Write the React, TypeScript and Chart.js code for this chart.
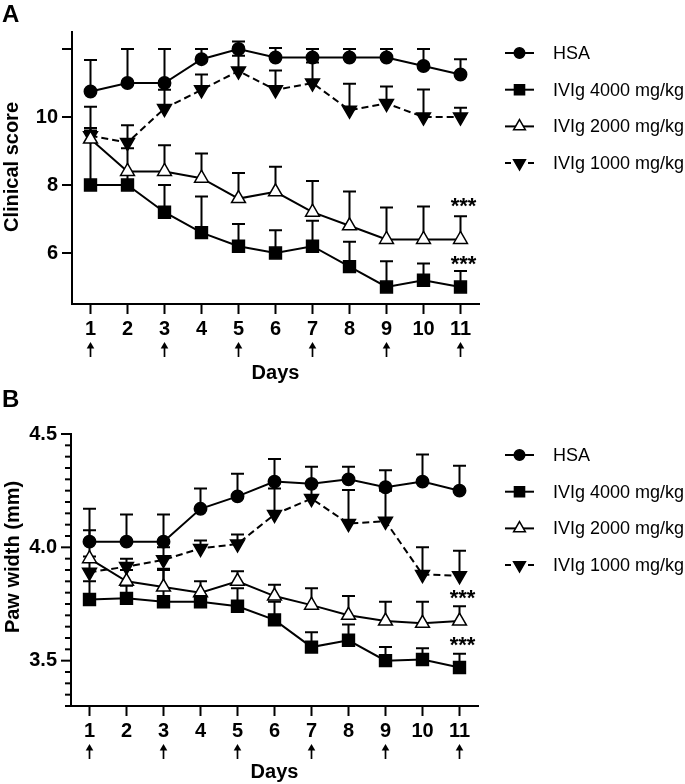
import React, { useEffect, useRef } from 'react';
import { Chart, registerables } from 'chart.js';

Chart.register(...registerables);

// ---------------- data ----------------
const days = [1, 2, 3, 4, 5, 6, 7, 8, 9, 10, 11];
const doseDays = [1, 3, 5, 7, 9, 11];
const seriesNames = ['HSA', 'IVIg 4000 mg/kg', 'IVIg 2000 mg/kg', 'IVIg 1000 mg/kg'];

// Panel A – clinical score (mean and mean + SEM)
const scoreHSA = [10.75, 11.0, 11.0, 11.7, 12.0, 11.75, 11.75, 11.75, 11.75, 11.5, 11.25];
const scoreHSAUpper = [11.68, 12.0, 12.0, 12.0, 12.22, 12.03, 12.0, 12.0, 12.0, 12.0, 11.7];
const score4000 = [8.0, 8.0, 7.2, 6.6, 6.2, 6.0, 6.2, 5.6, 5.0, 5.2, 5.0];
const score4000Upper = [9.68, 8.3, 8.0, 7.66, 6.85, 6.67, 6.95, 6.33, 5.76, 5.69, 5.47];
const score2000 = [9.35, 8.4, 8.4, 8.2, 7.6, 7.8, 7.2, 6.8, 6.4, 6.4, 6.4];
const score2000Upper = [10.3, 9.08, 9.17, 8.93, 8.35, 8.54, 8.12, 7.81, 7.34, 7.37, 7.08];
const score1000 = [9.45, 9.25, 10.25, 10.8, 11.35, 10.8, 11.0, 10.2, 10.4, 10.0, 10.0];
const score1000Upper = [9.6, 9.76, 10.8, 11.25, 11.8, 11.37, 11.6, 10.98, 10.9, 10.81, 10.27];
const scoreTicks = [6, 8, 10, 12];
const scoreTickLabels = [6, 8, 10];
const scoreStars = [7.55, 5.85];

// Panel B – paw width in mm (mean and mean + SEM)
const pawHSA = [4.025, 4.025, 4.025, 4.17, 4.225, 4.29, 4.28, 4.3, 4.265, 4.29, 4.25];
const pawHSAUpper = [4.17, 4.145, 4.145, 4.26, 4.325, 4.39, 4.355, 4.355, 4.34, 4.41, 4.36];
const paw4000 = [3.77, 3.775, 3.76, 3.76, 3.74, 3.68, 3.56, 3.59, 3.5, 3.505, 3.47];
const paw4000Upper = [3.85, 3.83, 3.9, 3.79, 3.82, 3.76, 3.625, 3.66, 3.56, 3.555, 3.53];
const paw2000 = [3.95, 3.85, 3.825, 3.8, 3.85, 3.785, 3.745, 3.7, 3.675, 3.665, 3.675];
const paw2000Upper = [4.075, 3.9, 3.905, 3.85, 3.895, 3.835, 3.82, 3.785, 3.76, 3.76, 3.74];
const paw1000 = [3.89, 3.915, 3.945, 3.995, 4.015, 4.145, 4.215, 4.105, 4.115, 3.88, 3.875];
const paw1000Upper = [3.96, 3.95, 4.0, 4.03, 4.057, 4.26, 4.28, 4.253, 4.25, 4.0, 3.985];
const pawTickStep = 0.05;
const pawTickLabels = [3.5, 4.0, 4.5];
const pawStars = [3.8, 3.595];

// ---------------- styling ----------------
const FONT = "'Liberation Sans', Arial, Helvetica, sans-serif";
const W = 685;

type Panel = {
  letter: string;
  yTitle: string;
  titleX: number;
  titleShift: number;
  yMin: number;
  yMax: number;
  yTicks: number[];
  yLabels: number[];
  yDecimals: number;
  means: number[][];
  uppers: number[][];
  stars: number[];
  height: number;
  area: { top: number; bottom: number; left: number; right: number };
};

const pawTicks: number[] = [];
for (let v = 3.3; v <= 4.5 + 1e-9; v += pawTickStep) pawTicks.push(Math.round(v * 100) / 100);

const panelA: Panel = {
  letter: 'A',
  yTitle: 'Clinical score',
  titleX: 12.5,
  titleShift: -1,
  yMin: 4.5,
  yMax: 12.5,
  yTicks: scoreTicks,
  yLabels: scoreTickLabels,
  yDecimals: 0,
  means: [scoreHSA, score4000, score2000, score1000],
  uppers: [scoreHSAUpper, score4000Upper, score2000Upper, score1000Upper],
  stars: scoreStars,
  height: 385,
  area: { top: 32, bottom: 304, left: 72, right: 479 },
};

const panelB: Panel = {
  letter: 'B',
  yTitle: 'Paw width (mm)',
  titleX: 13.5,
  titleShift: -13,
  yMin: 3.3,
  yMax: 4.5,
  yTicks: pawTicks,
  yLabels: pawTickLabels,
  yDecimals: 1,
  means: [pawHSA, paw4000, paw2000, paw1000],
  uppers: [pawHSAUpper, paw4000Upper, paw2000Upper, paw1000Upper],
  stars: pawStars,
  height: 399,
  area: { top: 49, bottom: 321, left: 71, right: 478 },
};

const markerStyles = [
  { style: 'circle', radius: 6.2, rotation: 0, fill: '#000', dash: [] as number[] },
  { style: 'rect', radius: 8.4, rotation: 0, fill: '#000', dash: [] as number[] },
  { style: 'triangle', radius: 8, rotation: 0, fill: '#fff', dash: [] as number[] },
  { style: 'triangle', radius: 8, rotation: 180, fill: '#000', dash: [7, 4] },
];

const isLabeled = (labels: number[], v: number) => labels.some((l) => Math.abs(l - v) < 1e-6);

function drawMarker(ctx: CanvasRenderingContext2D, i: number, x: number, y: number, scale: number) {
  const m = markerStyles[i];
  const r = m.radius * scale;
  ctx.save();
  ctx.fillStyle = m.fill;
  ctx.strokeStyle = '#000';
  ctx.lineWidth = 1.5;
  ctx.setLineDash([]);
  ctx.beginPath();
  if (m.style === 'circle') {
    ctx.arc(x, y, r, 0, Math.PI * 2);
  } else if (m.style === 'rect') {
    const s = r * Math.SQRT1_2;
    ctx.rect(x - s, y - s, 2 * s, 2 * s);
  } else {
    let a = (m.rotation * Math.PI) / 180;
    ctx.moveTo(x + Math.sin(a) * r, y - Math.cos(a) * r);
    a += (2 * Math.PI) / 3;
    ctx.lineTo(x + Math.sin(a) * r, y - Math.cos(a) * r);
    a += (2 * Math.PI) / 3;
    ctx.lineTo(x + Math.sin(a) * r, y - Math.cos(a) * r);
    ctx.closePath();
  }
  ctx.fill();
  ctx.stroke();
  ctx.restore();
}

function buildConfig(p: Panel): any {
  const decor = {
    id: 'decor',
    beforeDatasetsDraw(chart: any) {
      const ctx = chart.ctx as CanvasRenderingContext2D;
      const ys = chart.scales.y;
      ctx.save();
      ctx.strokeStyle = '#000';
      ctx.lineWidth = 2;
      chart.data.datasets.forEach((ds: any, di: number) => {
        const meta = chart.getDatasetMeta(di);
        meta.data.forEach((pt: any, j: number) => {
          const up = ds.upper[j];
          const y1 = ys.getPixelForValue(up);
          ctx.beginPath();
          ctx.moveTo(pt.x, pt.y);
          ctx.lineTo(pt.x, y1);
          ctx.moveTo(pt.x - 6.5, y1);
          ctx.lineTo(pt.x + 6.5, y1);
          ctx.stroke();
        });
      });
      ctx.restore();
    },
    afterDraw(chart: any) {
      const ctx = chart.ctx as CanvasRenderingContext2D;
      const xs = chart.scales.x;
      const ys = chart.scales.y;
      const area = chart.chartArea;
      ctx.save();
      // y-axis tick marks
      ctx.strokeStyle = '#000';
      ctx.lineWidth = 2;
      ys.ticks.forEach((t: any) => {
        const y = ys.getPixelForValue(t.value);
        const len = isLabeled(p.yLabels, t.value) || p.yDecimals === 0 ? 10 : 6;
        ctx.beginPath();
        ctx.moveTo(area.left - len, y);
        ctx.lineTo(area.left, y);
        ctx.stroke();
      });
      // y-axis title
      ctx.save();
      ctx.translate(p.titleX, (area.top + area.bottom) / 2 + p.titleShift);
      ctx.rotate(-Math.PI / 2);
      ctx.font = `bold 20px ${FONT}`;
      ctx.fillStyle = '#000';
      ctx.textAlign = 'center';
      ctx.textBaseline = 'middle';
      ctx.fillText(p.yTitle, 0, 0);
      ctx.restore();
      // dosing arrows
      ctx.fillStyle = '#000';
      ctx.lineWidth = 1.7;
      doseDays.forEach((d) => {
        const x = xs.getPixelForValue(d);
        const yTop = area.bottom + 38;
        const yBot = area.bottom + 53;
        ctx.beginPath();
        ctx.moveTo(x, yTop + 4);
        ctx.lineTo(x, yBot);
        ctx.stroke();
        ctx.beginPath();
        ctx.moveTo(x, yTop);
        ctx.lineTo(x - 3.8, yTop + 6.5);
        ctx.lineTo(x + 3.8, yTop + 6.5);
        ctx.closePath();
        ctx.fill();
      });
      // significance stars
      ctx.font = `bold 22px ${FONT}`;
      ctx.textAlign = 'center';
      ctx.textBaseline = 'alphabetic';
      const sx = xs.getPixelForValue(days[days.length - 1]) + 3;
      p.stars.forEach((v) => {
        ctx.fillText('***', sx, ys.getPixelForValue(v) + 12.5);
      });
      // panel letter
      ctx.font = `bold 24px ${FONT}`;
      ctx.textAlign = 'left';
      ctx.fillText(p.letter, 2, 22);
      // legend
      ctx.font = `18px ${FONT}`;
      ctx.textBaseline = 'middle';
      seriesNames.forEach((name, i) => {
        const y = area.top + 21 + i * 36.7;
        ctx.strokeStyle = '#000';
        ctx.lineWidth = 2;
        ctx.beginPath();
        if (markerStyles[i].dash.length) {
          ctx.moveTo(505, y);
          ctx.lineTo(511, y);
          ctx.moveTo(528, y);
          ctx.lineTo(534, y);
        } else {
          ctx.moveTo(505, y);
          ctx.lineTo(534, y);
        }
        ctx.stroke();
        drawMarker(ctx, i, 519.5, y, 0.85);
        ctx.fillStyle = '#000';
        ctx.fillText(name, 553, y + 1);
      });
      ctx.restore();
    },
  };

  const datasets = p.means.map((mean, i) => {
    const m = markerStyles[i];
    return {
      label: seriesNames[i],
      data: days.map((d, j) => ({ x: d, y: mean[j] })),
      upper: p.uppers[i],
      borderColor: '#000',
      borderWidth: 2,
      borderDash: m.dash,
      backgroundColor: m.fill,
      pointStyle: m.style,
      pointRadius: m.radius,
      pointRotation: m.rotation,
      pointBackgroundColor: m.fill,
      pointBorderColor: '#000',
      pointBorderWidth: 1.5,
      tension: 0,
      clip: false,
    };
  });

  return {
    type: 'line',
    data: { datasets },
    options: {
      responsive: false,
      animation: false,
      devicePixelRatio: 1,
      events: [],
      layout: { padding: { top: p.area.top, right: W - p.area.right, left: 0, bottom: 0 } },
      plugins: { legend: { display: false }, tooltip: { enabled: false }, title: { display: false } },
      scales: {
        x: {
          type: 'linear',
          min: 0.5,
          max: 11.5,
          afterBuildTicks: (s: any) => {
            s.ticks = days.map((v) => ({ value: v }));
          },
          afterFit: (s: any) => {
            s.height = p.height - p.area.bottom;
          },
          grid: { drawOnChartArea: false, drawTicks: true, tickLength: 10, tickWidth: 2, tickColor: '#000' },
          border: { display: true, color: '#000', width: 2 },
          ticks: {
            color: '#000',
            font: { family: FONT, size: 20, weight: 'bold' },
            padding: 3,
            maxRotation: 0,
            autoSkip: false,
            callback: (v: any) => String(v),
          },
          title: {
            display: true,
            text: 'Days',
            color: '#000',
            font: { family: FONT, size: 20, weight: 'bold' },
            padding: { top: 0, bottom: 0 },
          },
        },
        y: {
          type: 'linear',
          min: p.yMin,
          max: p.yMax,
          afterBuildTicks: (s: any) => {
            s.ticks = p.yTicks.map((v) => ({ value: v }));
          },
          afterFit: (s: any) => {
            s.width = p.area.left;
          },
          grid: { drawOnChartArea: false, drawTicks: false },
          border: { display: true, color: '#000', width: 2 },
          ticks: {
            color: '#000',
            font: { family: FONT, size: 20, weight: 'bold' },
            padding: 14,
            autoSkip: false,
            callback: (v: any) => (isLabeled(p.yLabels, v) ? Number(v).toFixed(p.yDecimals) : ''),
          },
          title: { display: false },
        },
      },
    },
    plugins: [decor],
  };
}

function PanelChart({ panel, top }: { panel: Panel; top: number }) {
  const ref = useRef<HTMLCanvasElement>(null);
  useEffect(() => {
    const chart = new Chart(ref.current as HTMLCanvasElement, buildConfig(panel));
    return () => chart.destroy();
  }, [panel]);
  return (
    <canvas
      ref={ref}
      width={W}
      height={panel.height}
      style={{ position: 'absolute', left: 0, top, width: W, height: panel.height, display: 'block' }}
    />
  );
}

export default function App() {
  return (
    <div style={{ position: 'absolute', left: 0, top: 0, width: W, height: 784, background: '#fff', overflow: 'hidden' }}>
      <PanelChart panel={panelA} top={0} />
      <PanelChart panel={panelB} top={385} />
    </div>
  );
}
